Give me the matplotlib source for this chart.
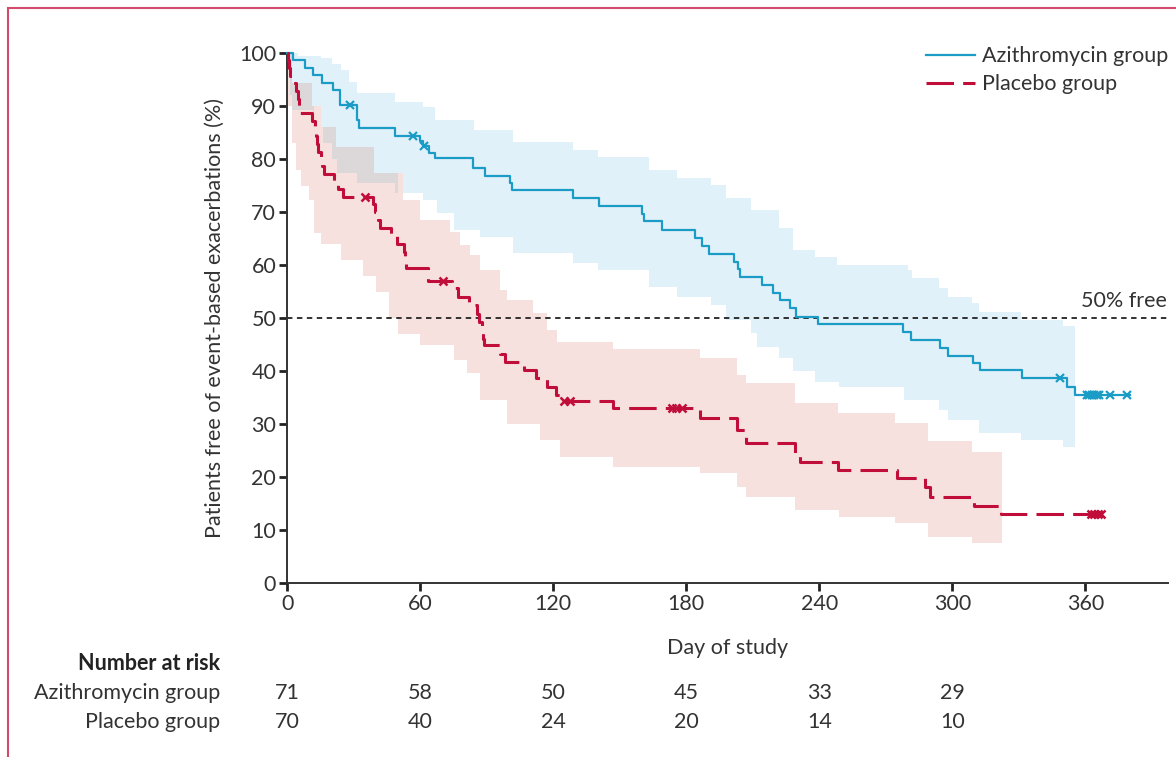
import numpy as np
import matplotlib
matplotlib.use("Agg")
import matplotlib.pyplot as plt
from matplotlib.patches import Rectangle

plt.rcParams["font.family"] = ["Lato", "DejaVu Sans"]
FS = 15.5

# Kaplan-Meier estimates
azi_days = [0, 2.6, 8, 11.6, 15.7, 20.6, 23.8, 31.5, 32.5, 48.6, 59.9, 61.0, 64, 66.6,
            83.8, 89.2, 100.5, 101.5, 128.9, 140.6, 160, 161, 169, 183.9, 187, 190.2,
            201.5, 203.5, 204.2, 214, 219, 222.2, 226.7, 229.4, 239.4, 277.7, 281.2,
            294.5, 298.1, 309.3, 312.5, 331.3, 351.6, 355.4]
azi_surv = [100, 98.6, 97.2, 95.8, 94.4, 93.0, 90.2, 87.3, 85.8, 84.3, 83.4, 82.4, 81.2, 80.1,
            78.3, 76.8, 75.5, 74.2, 72.6, 71.1, 69.6, 68.3, 66.6, 65.1, 63.6, 62.1,
            60.6, 59.2, 57.8, 56.2, 54.8, 53.4, 51.9, 50.2, 48.9, 47.4, 45.8,
            44.3, 42.9, 41.5, 40.1, 38.6, 37.0, 35.5]
azi_end = 380
azi_cens_days = [28.3, 56.8, 61.7, 348.6, 360.7, 361.8, 362.9, 364.0, 365.2, 366.4, 371, 378.7]

pla_days = [0, 0.4, 0.8, 1.2, 2.5, 4, 4.8, 5.4, 5.8, 11, 12.5, 13, 13.5, 14, 15, 15.5, 16.5,
            21, 23, 25, 38.5, 39.6, 41, 41.8, 47, 49.5, 52.5, 53, 53.5, 63.5, 74.3, 77, 82,
            85.6, 86.5, 87.8, 88.2, 88.6, 96, 98, 107, 112, 117, 121, 123.5, 147, 186.3,
            202.7, 207, 229, 231.4, 248.6, 275, 287.7, 290, 310, 322]
pla_surv = [100, 98.6, 97.1, 95.7, 94.3, 92.9, 91.4, 90.0, 88.6, 87.1, 85.7, 84.3, 82.9, 81.4,
            80.0, 78.6, 77.1, 75.7, 74.3, 72.9, 71.5, 70.0, 68.5, 67.0, 65.5, 64.0, 62.5, 61.0,
            59.5, 57.0, 55.6, 54.0, 52.4, 50.8, 49.2, 47.6, 46.0, 44.9, 43.3, 41.7, 40.2, 38.6,
            37.0, 35.5, 34.4, 33.0, 31.1, 28.8, 26.4, 24.6, 22.9, 21.3, 19.9, 18.1, 16.3, 14.6,
            13.1]
pla_end = 368
pla_cens_days = [35, 70.2, 124.6, 127.5, 173.5, 175.5, 178, 362.5, 364, 365.5, 367]

# 95% confidence bands (step functions)
azi_ci_up_days = [0, 5, 15, 20, 24, 28, 31.5, 48.6, 61, 66.6, 84, 102, 129, 140, 163, 176,
                  191, 198, 209, 222, 228, 238, 248, 280, 282, 294, 298, 309, 312, 331, 350]
azi_ci_up = [100, 99.5, 99, 98, 96.8, 94.5, 92.4, 90.8, 89.9, 87.4, 85.5, 83.3, 81.7, 80.4,
             77.9, 76.4, 75.1, 72.6, 70.4, 67.0, 62.8, 61.6, 60.0, 59.0, 57.5, 55.7, 54.0,
             52.8, 51.2, 49.6, 48.4]
azi_ci_lo_days = [0, 1, 2, 11.6, 16, 20, 22.5, 31.5, 48.6, 61, 67.5, 75, 87, 102, 129, 140,
                  163, 176, 191, 198, 209, 212, 222, 228, 238, 249, 278, 294, 298, 312, 331, 350]
azi_ci_lo = [100, 92, 89.2, 86, 83, 80, 77.4, 75.5, 73.5, 72.3, 69.8, 66.6, 65.3,
             62.3, 60.4, 59, 55.9, 54, 52.5, 49.6, 47.2, 44.6, 42.5, 40, 38, 37, 34.5, 32.6,
             30.8, 28.3, 27.0, 25.7]
azi_ci_end = 355.4

pla_ci_up_days = [0, 2, 11, 15, 22, 39, 52, 60, 73.5, 78, 82.5, 87, 96, 99, 111, 117, 121.6,
                  147, 186, 202.7, 207, 229, 248.6, 274, 289, 309]
pla_ci_up = [100, 94.3, 90, 86, 82.3, 77.4, 72.3, 68.5, 66.2, 63.8, 61.9, 59, 55.3, 53.4,
             50.9, 47.7, 45.5, 44.2, 42.5, 39.2, 37.7, 33.9, 32.1, 30.2, 26.7, 24.8]
pla_ci_lo_days = [0, 0.5, 2, 4, 6, 10, 12, 15, 24, 34, 40, 46, 50, 60, 75, 81, 87, 99, 114,
                  123, 147, 186, 203, 207, 229, 249, 274, 289, 309]
pla_ci_lo = [100, 90, 83, 78, 75, 72.3, 66, 64, 61, 58, 55, 50, 47, 45, 42, 39.6, 34.5, 30,
             27, 23.8, 21.9, 20.7, 18.2, 16.3, 13.8, 12.5, 11.3, 8.7, 7.5]
pla_ci_end = 322.5

risk_days = [0, 60, 120, 180, 240, 300]
risk_azi = [71, 58, 50, 45, 33, 29]
risk_pla = [70, 40, 24, 20, 14, 10]

BLUE = "#1a9cc6"
RED = "#c10d3a"
BLUE_BAND = "#e0f1f9"
RED_BAND = "#f6e1df"
GREY_BAND = "#dcd8da"
TXT = "#333333"


def extend(days, vals, end):
    return np.append(days, end), np.append(vals, vals[-1])


def value_at(days, vals, t):
    idx = np.searchsorted(days, t, side="right") - 1
    return np.asarray(vals)[idx]


fig = plt.figure(figsize=(11.76, 7.57), dpi=100)
ax = fig.add_axes([287.3 / 1176, 1 - 583 / 757, (1168 - 287.3) / 1176, 530 / 757])

# confidence bands
grid_b = np.unique(np.concatenate([azi_ci_up_days, azi_ci_lo_days, [azi_ci_end]]))
ax.fill_between(grid_b, value_at(azi_ci_lo_days, azi_ci_lo, grid_b),
                value_at(azi_ci_up_days, azi_ci_up, grid_b), step="post",
                color=BLUE_BAND, lw=0, zorder=1)
grid_r = np.unique(np.concatenate([pla_ci_up_days, pla_ci_lo_days, [pla_ci_end]]))
ax.fill_between(grid_r, value_at(pla_ci_lo_days, pla_ci_lo, grid_r),
                value_at(pla_ci_up_days, pla_ci_up, grid_r), step="post",
                color=RED_BAND, lw=0, zorder=1.1)
# overlap of the two bands
grid_o = np.unique(np.concatenate([grid_b, grid_r]))
grid_o = grid_o[grid_o <= pla_ci_end]
lo = np.maximum(value_at(azi_ci_lo_days, azi_ci_lo, grid_o), value_at(pla_ci_lo_days, pla_ci_lo, grid_o))
hi = np.minimum(value_at(azi_ci_up_days, azi_ci_up, grid_o), value_at(pla_ci_up_days, pla_ci_up, grid_o))
ax.fill_between(grid_o, lo, hi, where=hi > lo, step="post",
                color=GREY_BAND, lw=0, zorder=1.2)

# 50% reference line
ax.axhline(50, color="#222222", lw=1.3, ls=(0, (3, 2.5)), zorder=2)
ax.text(397, 51.3, "50% free", ha="right", va="bottom", fontsize=FS, color=TXT)

# KM curves
x, y = extend(azi_days, azi_surv, azi_end)
ax.step(x, y, where="post", color=BLUE, lw=1.6, zorder=3, clip_on=False,
        label="Azithromycin group")
ax.plot(azi_cens_days, value_at(azi_days, azi_surv, azi_cens_days), ls="none", marker="x",
        ms=6, mew=1.6, color=BLUE, zorder=4, clip_on=False)
x, y = extend(pla_days, pla_surv, pla_end)
ax.step(x, y, where="post", color=RED, lw=2.2, ls=(0, (9, 3)), zorder=3, clip_on=False,
        label="Placebo group")
ax.plot(pla_cens_days, value_at(pla_days, pla_surv, pla_cens_days), ls="none", marker="x",
        ms=6, mew=1.8, color=RED, zorder=4, clip_on=False)

ax.set_xlim(0, (1168 - 287.3) / 2.2167)
ax.set_ylim(0, 100)
ax.set_xticks([0, 60, 120, 180, 240, 300, 360])
ax.set_yticks(range(0, 101, 10))
for s in ["top", "right"]:
    ax.spines[s].set_visible(False)
for s in ["left", "bottom"]:
    ax.spines[s].set_linewidth(1.4)
    ax.spines[s].set_color("#333333")
ax.tick_params(axis="both", length=6, width=2, color="#222222", labelsize=FS,
               labelcolor=TXT, pad=2)
ax.set_xlabel("Day of study", fontsize=FS, color=TXT, labelpad=17)
ax.set_ylabel("Patients free of event-based exacerbations (%)", fontsize=FS,
              color=TXT, labelpad=10)

leg = ax.legend(loc="upper right", bbox_to_anchor=(1.0, 1.013), frameon=False,
                fontsize=FS, handlelength=2.3, handletextpad=0.3, labelspacing=0.38,
                borderaxespad=0, borderpad=0)
for t in leg.get_texts():
    t.set_color(TXT)

# number at risk table
trans = ax.get_xaxis_transform()
fig.text(220 / 1176, 1 - 664 / 757, "Number at risk", ha="right", va="center",
         fontsize=FS, fontweight="bold", color="#222222")
fig.text(220 / 1176, 1 - 693 / 757, "Azithromycin group", ha="right", va="center",
         fontsize=FS, color=TXT)
fig.text(220 / 1176, 1 - 722 / 757, "Placebo group", ha="right", va="center",
         fontsize=FS, color=TXT)
row_y = [(583 - 693) / 530, (583 - 722) / 530]
for d, a, p in zip(risk_days, risk_azi, risk_pla):
    ax.text(d, row_y[0], str(a), transform=trans, ha="center", va="center", fontsize=FS,
            color=TXT, clip_on=False)
    ax.text(d, row_y[1], str(p), transform=trans, ha="center", va="center", fontsize=FS,
            color=TXT, clip_on=False)

# page border
fig.add_artist(Rectangle((8 / 1176, -0.1), 1.2, 1.1 - 8 / 757, transform=fig.transFigure,
                         fill=False, ec="#d24a6e", lw=1.5))

fig.savefig("out.png", dpi=100)
